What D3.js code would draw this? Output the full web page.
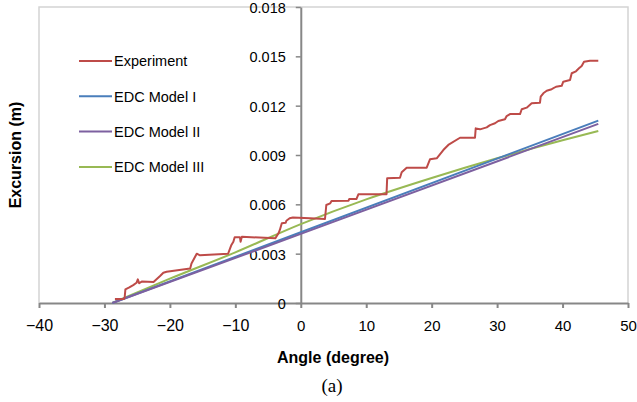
<!DOCTYPE html>
<html>
<head>
<meta charset="utf-8">
<script src="https://cdn.jsdelivr.net/npm/d3@7"></script>
<style>
  body { margin: 0; background: #fff; }
  text { font-family: "Liberation Sans", Arial, sans-serif; fill: #000; }
</style>
</head>
<body>
<script>
// experiment trace (angle in degree, excursion in m)
var expAngle = [-28.4, -27.0, -26.9, -26.8, -26.2, -25.6, -25.1, -24.9, -24.7, -24.3, -22.5, -21.5, -21.0, -20.5,
  -16.9, -16.7, -15.9, -15.4, -11.1, -10.6, -10.3, -10.1, -9.3, -9.2, -9.0, -3.9, -3.4, -3.2, -2.9, -2.3, -2.2,
  -1.7, -1.2, 1.4, 3.7, 3.9, 4.5, 4.7, 7.3, 7.4, 8.5, 8.8, 13.1, 13.2, 15.16, 15.42, 16.18, 19.24, 19.74, 20.77,
  21.78, 22.54, 24.33, 26.62, 26.73, 27.38, 28.41, 28.91, 29.68, 30.18, 31.2, 31.46, 31.97, 33.5, 33.76, 34.52,
  35.28, 36.55, 36.66, 37.06, 37.58, 38.34, 39.0, 39.87, 40.11, 41.14, 41.4, 42.05, 42.51, 42.92, 43.28, 44.19, 45.46];
var expValue = [0.00024, 0.00024, 0.00038, 0.00083, 0.00095, 0.00109, 0.00123, 0.00144, 0.0012, 0.0013, 0.00128,
  0.00164, 0.00184, 0.0019, 0.0021, 0.0024, 0.003, 0.0029, 0.003, 0.00353, 0.00373, 0.004, 0.004, 0.00373, 0.00403,
  0.00393, 0.00424, 0.00444, 0.00485, 0.00488, 0.005, 0.00515, 0.0052, 0.00515, 0.00511, 0.00596, 0.00606, 0.0062,
  0.00622, 0.00632, 0.00632, 0.00661, 0.00661, 0.00758, 0.00762, 0.00795, 0.00823, 0.00823, 0.00874, 0.0088, 0.0093,
  0.00961, 0.01005, 0.01005, 0.01062, 0.01056, 0.01068, 0.01082, 0.01093, 0.01107, 0.01117, 0.01137, 0.01149,
  0.01149, 0.01178, 0.01188, 0.01214, 0.01218, 0.01255, 0.01275, 0.01291, 0.013, 0.01315, 0.01321, 0.01346,
  0.01356, 0.01397, 0.01409, 0.01427, 0.01441, 0.01467, 0.01473, 0.01473];

var modelAngle = [-28.8, 0, 45.46];
var model1 = [0, 0.0043, 0.01109];
var model2 = [0, 0.0042, 0.01089];

var model3Angle = [-28.8, -20, -10, 0, 10, 20, 30, 40, 45.46];
var model3 = [0, 0.00148, 0.00308, 0.0048, 0.0063, 0.0076, 0.0088, 0.0099, 0.01046];

var seriesNames = ["Experiment", "EDC Model I", "EDC Model II", "EDC Model III"];
var seriesColors = ["#be4b48", "#4a7ebb", "#7d60a0", "#98b954"];

var xTicks = [-40, -30, -20, -10, 0, 10, 20, 30, 40, 50];
var yTicks = [0, 0.003, 0.006, 0.009, 0.012, 0.015, 0.018];

var W = 637, H = 402;
var svg = d3.select("body").append("svg").attr("width", W).attr("height", H);

var x = d3.scaleLinear().domain([-40, 50]).range([39, 628]);
var y = d3.scaleLinear().domain([0, 0.018]).range([303, 7]);

// plot border (light)
svg.append("path")
  .attr("d", "M" + x(-40) + "," + y(0) + "V" + y(0.018) + "H" + x(50) + "V" + y(0))
  .attr("fill", "none").attr("stroke", "#d4d4d4").attr("stroke-width", 1.5);

// x axis
var gx = svg.append("g")
  .attr("transform", "translate(0," + y(0) + ")")
  .call(d3.axisBottom(x).tickValues(xTicks).tickSize(5).tickSizeOuter(0).tickPadding(12));
gx.select(".domain").attr("stroke", "#878787").attr("stroke-width", 2);
gx.selectAll(".tick line").attr("stroke", "#878787").attr("stroke-width", 2);
gx.selectAll(".tick text")
  .style("font-size", function(d){ return d < 0 ? "16px" : "15px"; })
  .attr("fill", "#000");

// y axis sits at angle 0
var gy = svg.append("g")
  .attr("transform", "translate(" + x(0) + ",0)")
  .call(d3.axisLeft(y).tickValues(yTicks).tickSize(5).tickSizeOuter(0).tickPadding(10)
    .tickFormat(function(d){ return d === 0 ? "0" : d3.format(".3f")(d); }));
gy.select(".domain").attr("stroke", "#878787").attr("stroke-width", 2);
gy.selectAll(".tick line").attr("stroke", "#878787").attr("stroke-width", 1.5);
gy.selectAll(".tick text").style("font-size", "14.5px").attr("fill", "#000").attr("dy", "0.38em");

var line = d3.line().x(function(d){ return x(d[0]); }).y(function(d){ return y(d[1]); });

var series = [
  d3.zip(expAngle, expValue),
  d3.zip(modelAngle, model1),
  d3.zip(modelAngle, model2),
  d3.zip(model3Angle, model3)
];

// green drawn smooth, others straight
[3, 1, 2, 0].forEach(function(i){
  var ln = i === 3 ? line.curve(d3.curveMonotoneX) : line.curve(d3.curveLinear);
  svg.append("path")
    .datum(series[i])
    .attr("d", ln)
    .attr("fill", "none")
    .attr("stroke", seriesColors[i])
    .attr("stroke-width", i === 0 ? 2 : 2)
    .attr("stroke-linejoin", "round");
});

// legend
var leg = svg.selectAll(".leg").data(seriesNames).enter().append("g")
  .attr("class", "leg")
  .attr("transform", function(d, i){ return "translate(79," + (61 + i * 35.3) + ")"; });
leg.append("line").attr("x1", 0).attr("x2", 33)
  .attr("stroke", function(d, i){ return seriesColors[i]; }).attr("stroke-width", 2);
leg.append("text").attr("x", 35).attr("dy", "0.36em")
  .style("font-size", "14.5px").text(function(d){ return d; });

// titles
svg.append("text")
  .attr("x", 333).attr("y", 363)
  .attr("text-anchor", "middle")
  .style("font-size", "16px").style("font-weight", "bold")
  .text("Angle (degree)");

svg.append("text")
  .attr("transform", "translate(21,155) rotate(-90)")
  .attr("text-anchor", "middle")
  .style("font-size", "16px").style("font-weight", "bold")
  .text("Excursion (m)");

svg.append("text")
  .attr("x", 332).attr("y", 392)
  .attr("text-anchor", "middle")
  .style("font-family", "'Liberation Serif', 'Times New Roman', serif")
  .style("font-size", "19px")
  .text("(a)");
</script>
</body>
</html>
